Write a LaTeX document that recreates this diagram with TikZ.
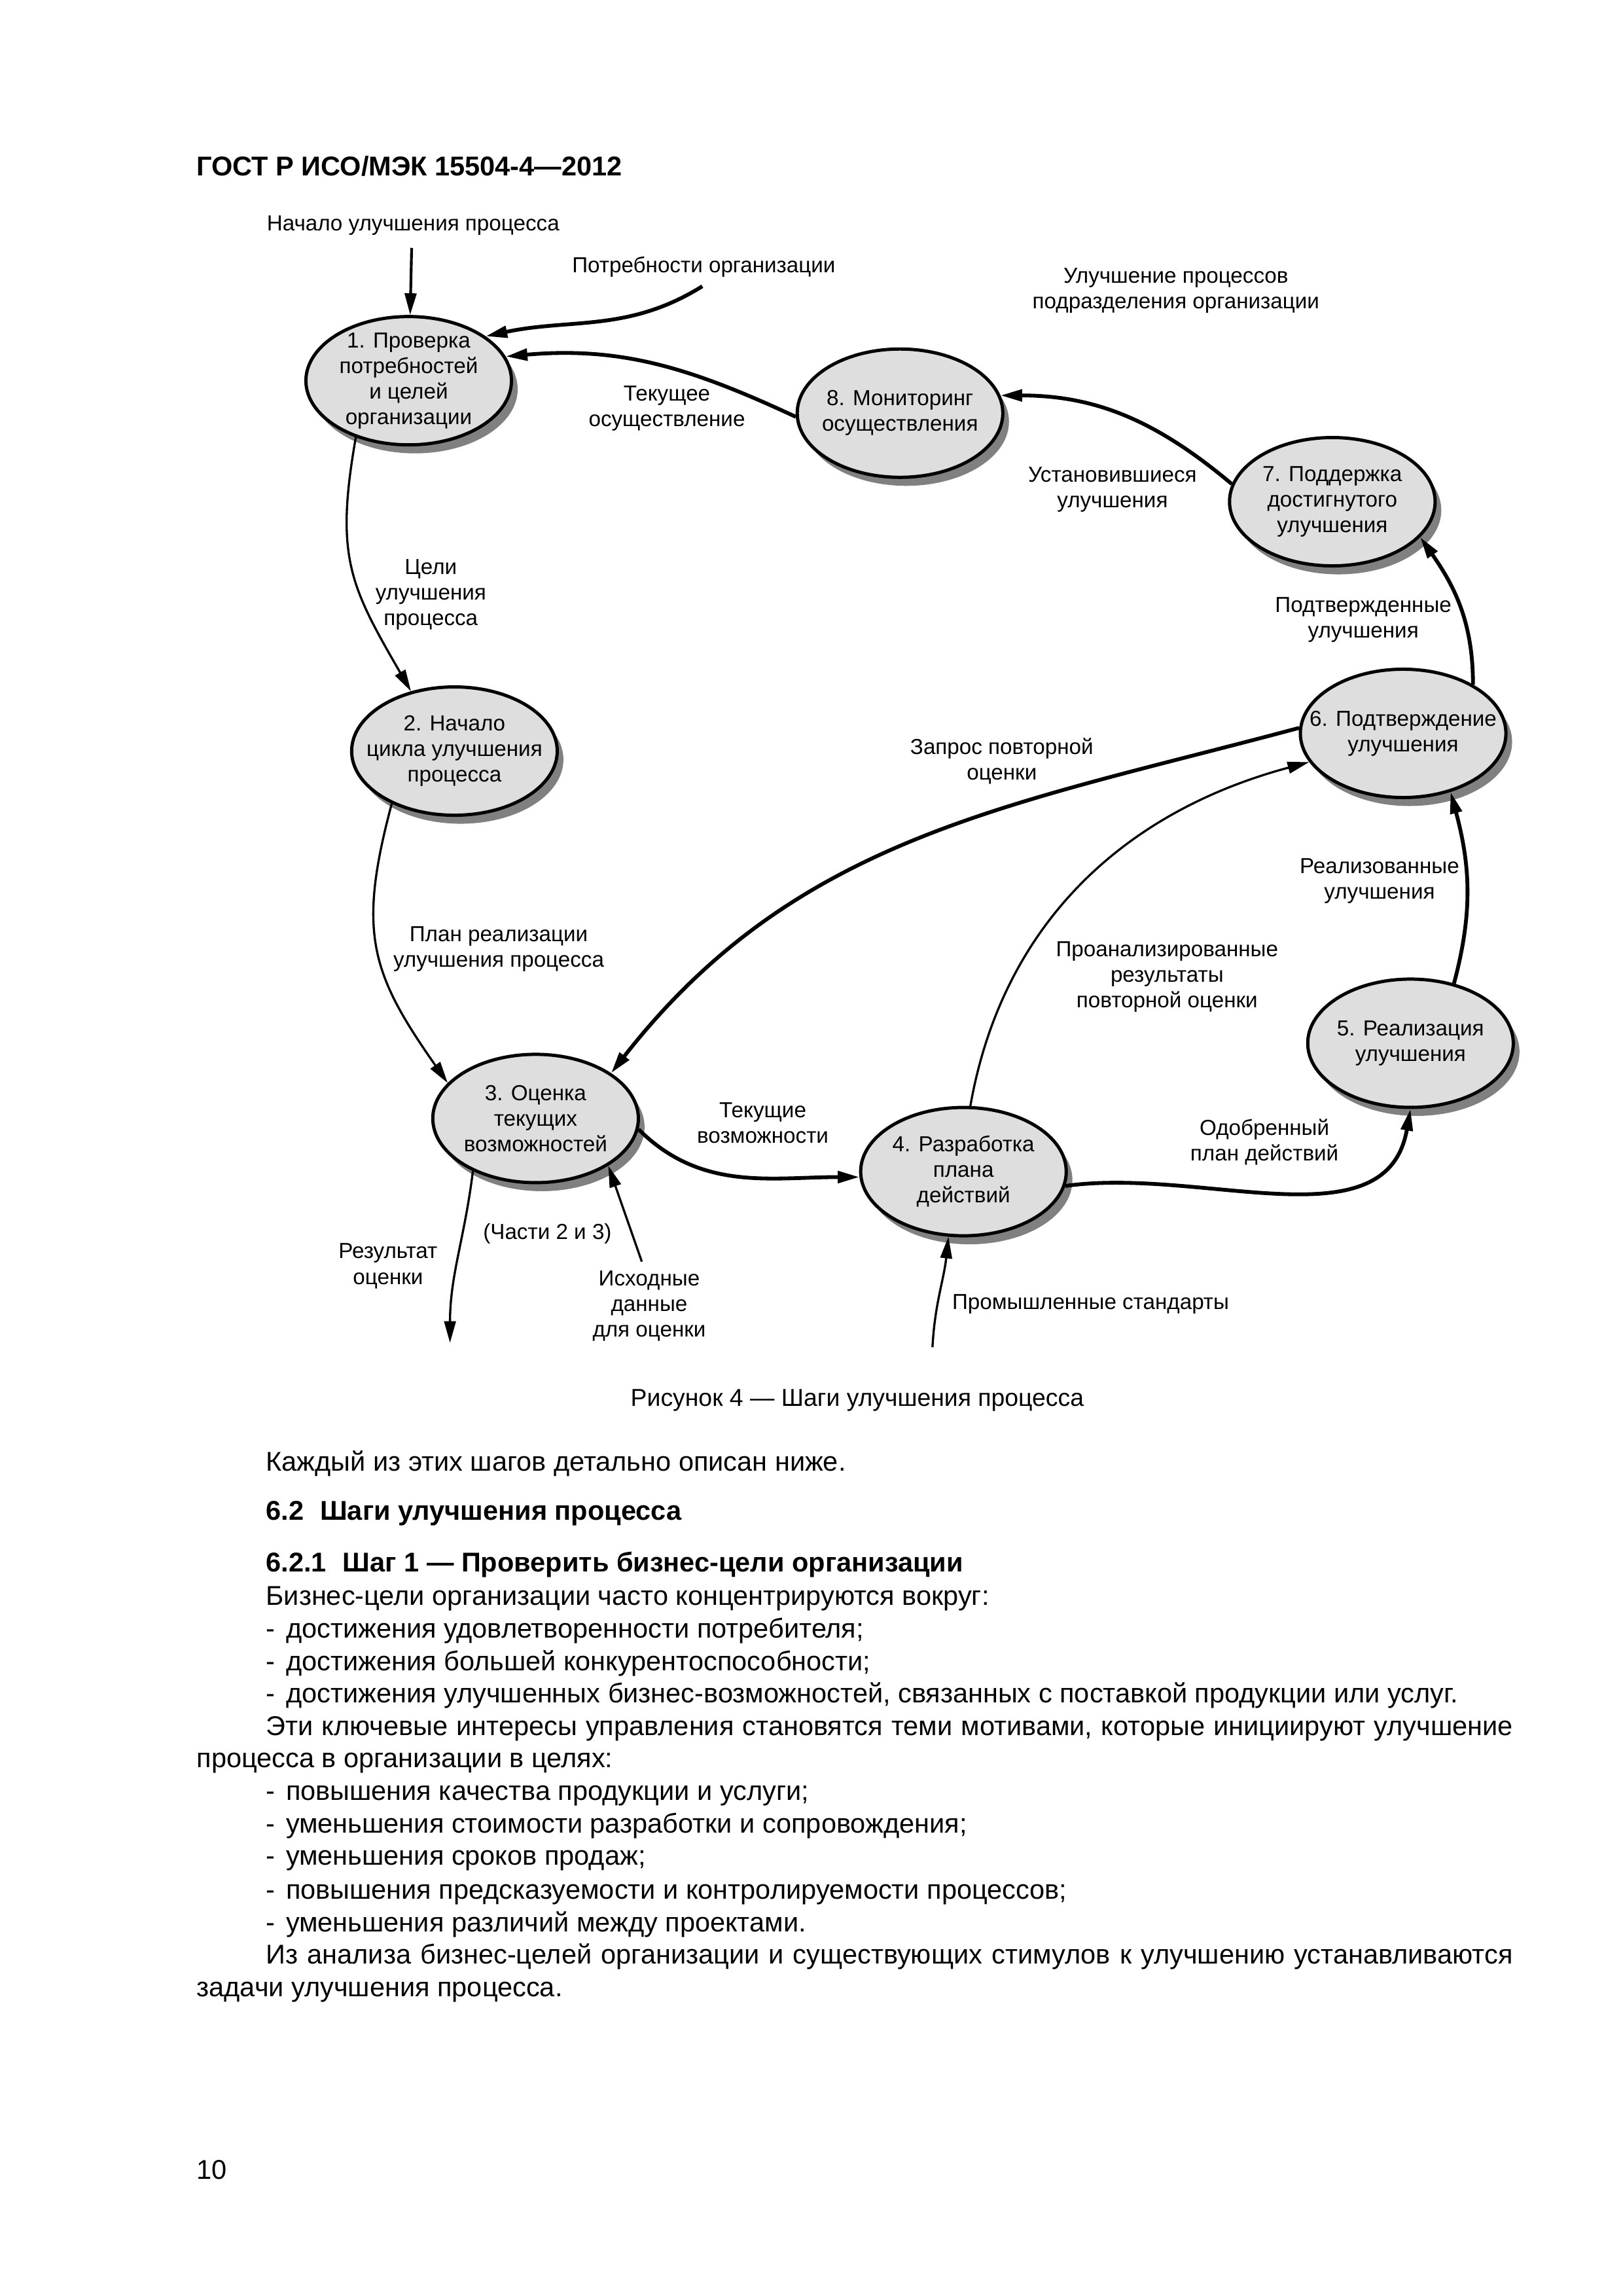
\documentclass[tikz,border=0pt]{standalone}
\usepackage{fontspec}
\setmainfont{Liberation Sans}
\usepackage{tikz}
\usetikzlibrary{positioning,shapes.geometric,shadows,arrows.meta}

\tikzset{
  stepnode/.style={ellipse, draw, line width=1.2pt, fill=black!13,
    minimum width=26.6mm, minimum height=16.6mm, inner xsep=-4mm, inner ysep=-4mm,
    align=center, font=\fontsize{8}{9.4}\selectfont,
    drop shadow={shadow xshift=0.8mm, shadow yshift=-1.1mm, fill=black!50, opacity=1}},
  flowlabel/.style={align=center, inner sep=0pt, font=\fontsize{8}{9.4}\selectfont},
  bodytext/.style={anchor=base west, inner sep=0pt, font=\fontsize{10}{12}\selectfont},
  headtext/.style={anchor=base west, inner sep=0pt, font=\bfseries\fontsize{10}{12}\selectfont},
  tipped/.style={-{Triangle[length=2.8mm,width=1.5mm]}},
  heavyflow/.style={tipped, line width=1.4pt},
  lightflow/.style={tipped, line width=0.8pt},
}

\begin{document}
\begin{tikzpicture}[x=0.190909mm,y=0.190909mm,yscale=-1,xscale=1]
%page 210 x 297 mm
\path[fill=white] (0,0) rectangle (1100,1556);

% Header
\node[headtext] (head) at (133,119) {ГОСТ Р ИСО/МЭК 15504-4—2012};

%Steps
\node[stepnode] (s1) at (277,258) {1. Проверка\\потребностей\\и целей\\организации};
\node[stepnode] (s2) at (308,509) {2. Начало\\цикла улучшения\\процесса};
\node[stepnode] (s3) at (363,758) {3. Оценка\\текущих\\возможностей};
\node[stepnode] (s4) at (653,794) {4. Разработка\\плана\\действий};
\node[stepnode] (s5) at (956,707) {5. Реализация\\улучшения};
\node[stepnode] (s6) at (951,497) {6. Подтверждение\\улучшения};
\node[stepnode] (s7) at (903,340) {7. Поддержка\\достигнутого\\улучшения};
\node[stepnode] (s8) at (610,280) {8. Мониторинг\\осуществления};

% Text Node
\node[flowlabel] (lstart) at (280,153) {Начало улучшения процесса};
\node[flowlabel] (lneeds) at (477,181) {Потребности организации};
\node[flowlabel] (lunit) at (797,197) {Улучшение процессов\\подразделения организации};
\node[flowlabel] (lcur) at (452,277) {Текущее\\осуществление};
\node[flowlabel] (lset) at (754,332) {Установившиеся\\улучшения};
\node[flowlabel] (lconf) at (924,420) {Подтвержденные\\улучшения};
\node[flowlabel] (lgoals) at (292,403) {Цели\\улучшения\\процесса};
\node[flowlabel] (lreq) at (679,516) {Запрос повторной\\оценки};
\node[flowlabel] (lreal) at (935,597) {Реализованные\\улучшения};
\node[flowlabel] (lplan) at (338,643) {План реализации\\улучшения процесса};
\node[flowlabel] (lanal) at (791,662) {Проанализированные\\результаты\\повторной оценки};
\node[flowlabel] (lcap) at (517,761) {Текущие\\возможности};
\node[flowlabel] (lappr) at (857,774) {Одобренный\\план действий};
\node[flowlabel] (lparts) at (371,836) {(Части 2 и 3)};
\node[flowlabel] (lres) at (263,858) {Результат\\оценки};
\node[flowlabel] (lsrc) at (440,885) {Исходные\\данные\\для оценки};
\node[flowlabel, anchor=west] (lind) at (645,884) {Промышленные стандарты};

%free ends
\coordinate (startin) at (279,168);
\coordinate (needsin) at (476,194);
\coordinate (resout) at (305,910);
\coordinate (srcin) at (435,855);
\coordinate (indin) at (632,913);

%Curve Lines
\draw[lightflow, line width=1pt] (startin) -- (s1);
\draw[heavyflow] (needsin) to[out=148,in=-12] (s1.30);
\draw[heavyflow] (s8.182) to[out=-155,in=-5] (s1.14);
\draw[heavyflow] (s7.170) to[out=-140,in=0] (s8.10);
\draw[heavyflow] (s6.35) to[out=-90,in=55] (s7.-22);
\draw[heavyflow] (s5.54) to[out=-75,in=75] (s6.-51);
\draw[heavyflow] (s6.177) to[out=165,in=-52] (s3.31);
\draw[lightflow] (s4.84) to[out=-80,in=165] (s6.197);
\draw[heavyflow] (s3.-6) to[out=45,in=180] (s4.183);
\draw[heavyflow] (s4.-8) to[out=-8,in=100] (s5.-90);
\draw[lightflow] (s1.-133) to[out=100,in=-120,looseness=1.2] (s2.126);
\draw[lightflow] (s2.-140) to[out=105,in=-125,looseness=1.2] (s3.158);
\draw[lightflow] (s3.-140) to[out=97,in=-90] (resout);
\draw[lightflow] (srcin) -- (s3.-33);
\draw[lightflow] (indin) to[out=-87,in=96] (s4.-103);

% Caption
\node[inner sep=0pt, font=\fontsize{9}{11}\selectfont] (cap) at (581,949) {Рисунок 4 — Шаги улучшения процесса};

% Body text
\node[bodytext] (b1) at (180,997) {Каждый из этих шагов детально описан ниже.};
\node[headtext] (b2) at (180,1030) {6.2\hspace{0.6em}Шаги улучшения процесса};
\node[headtext] (b3) at (180,1065) {6.2.1\hspace{0.6em}Шаг 1 — Проверить бизнес-цели организации};
\node[bodytext] (b4) at (180,1088) {Бизнес-цели организации часто концентрируются вокруг:};
\node[bodytext] (b5) at (180,1110) {-\hspace{0.4em}достижения удовлетворенности потребителя;};
\node[bodytext] (b6) at (180,1132) {-\hspace{0.4em}достижения большей конкурентоспособности;};
\node[bodytext] (b7) at (180,1154) {-\hspace{0.4em}достижения улучшенных бизнес-возможностей, связанных с поставкой продукции или услуг.};
\node[bodytext] (b8) at (180,1176) {\makebox[161.3mm][s]{Эти ключевые интересы управления становятся теми мотивами, которые инициируют улучшение}};
\node[bodytext] (b9) at (133,1198) {процесса в организации в целях:};
\node[bodytext] (b10) at (180,1220) {-\hspace{0.4em}повышения качества продукции и услуги;};
\node[bodytext] (b11) at (180,1242) {-\hspace{0.4em}уменьшения стоимости разработки и сопровождения;};
\node[bodytext] (b12) at (180,1264) {-\hspace{0.4em}уменьшения сроков продаж;};
\node[bodytext] (b13) at (180,1287) {-\hspace{0.4em}повышения предсказуемости и контролируемости процессов;};
\node[bodytext] (b14) at (180,1309) {-\hspace{0.4em}уменьшения различий между проектами.};
\node[bodytext] (b15) at (180,1331) {\makebox[161.3mm][s]{Из анализа бизнес-целей организации и существующих стимулов к улучшению устанавливаются}};
\node[bodytext] (b16) at (133,1353) {задачи улучшения процесса.};

% Page number
\node[bodytext] (pnum) at (133,1477) {10};
\end{tikzpicture}
\end{document}
